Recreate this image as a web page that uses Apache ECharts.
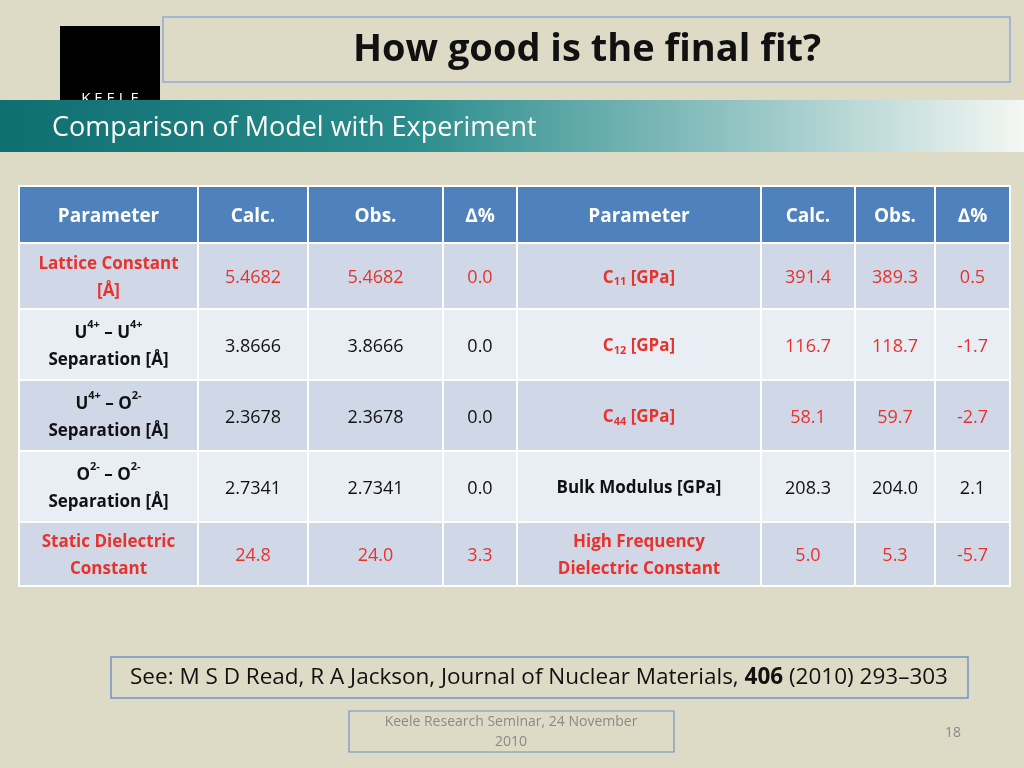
<!DOCTYPE html>
<html><head><meta charset="utf-8">
<script src="https://cdn.jsdelivr.net/npm/echarts@6/dist/echarts.min.js"></script>
<style>html,body{margin:0;background:#dddac5}#main{width:1024px;height:768px}</style>
</head><body><div id="main"></div>
<script>
var chartDom = document.getElementById('main');
var myChart = echarts.init(chartDom);
var FONT = 'Open Sans';

// table content
var headers = ['Parameter', 'Calc.', 'Obs.', '\u2206%', 'Parameter', 'Calc.', 'Obs.', '\u2206%'];
var leftParams = ['Lattice Constant\n[Å]', 'U{sup|4+} – U{sup|4+}\nSeparation [Å]', 'U{sup|4+} – O{sup|2-}\nSeparation [Å]', 'O{sup|2-} – O{sup|2-}\nSeparation [Å]', 'Static Dielectric\nConstant'];
var leftCalc = ['5.4682', '3.8666', '2.3678', '2.7341', '24.8'];
var leftObs = ['5.4682', '3.8666', '2.3678', '2.7341', '24.0'];
var leftDelta = ['0.0', '0.0', '0.0', '0.0', '3.3'];
var rightParams = ['C{sub|11} [GPa]', 'C{sub|12} [GPa]', 'C{sub|44} [GPa]', 'Bulk Modulus [GPa]', 'High Frequency\nDielectric Constant'];
var rightCalc = ['391.4', '116.7', '58.1', '208.3', '5.0'];
var rightObs = ['389.3', '118.7', '59.7', '204.0', '5.3'];
var rightDelta = ['0.5', '-1.7', '-2.7', '2.1', '-5.7'];
var leftRed = [true, false, false, false, true];
var rightRed = [true, true, true, false, true];

// layout of the table (column and row edges)
var colEdges = [0, 179, 289, 424, 498, 742, 836, 916, 991];
var rowEdges = [0, 57, 123, 194, 265, 336, 400];

var RED = '#e8322c';
var cells = [];
for (var c = 0; c < 8; c++) cells.push([c, 0, headers[c], 'head']);
for (var r = 0; r < 5; r++) {
    var lc = leftRed[r] ? RED : '#111';
    var rc = rightRed[r] ? RED : '#111';
    var row = [leftParams[r], leftCalc[r], leftObs[r], leftDelta[r], rightParams[r], rightCalc[r], rightObs[r], rightDelta[r]];
    for (var c = 0; c < 8; c++) {
        var col = c < 4 ? lc : rc;
        var kind = (c === 0 || c === 4) ? 'param' : 'val';
        cells.push([c, r + 1, row[c], kind, col]);
    }
}

function renderCell(params, api) {
    var c = api.value(0), r = api.value(1);
    var d = cells[params.dataIndex];
    var p0 = api.coord([colEdges[c], rowEdges[r]]);
    var p1 = api.coord([colEdges[c + 1], rowEdges[r + 1]]);
    var fill = r === 0 ? '#4f81bd' : (r % 2 === 1 ? '#d0d8e8' : '#e9edf4');
    var color = d[3] === 'head' ? '#fff' : d[4];
    var bold = d[3] !== 'val';
    var size = d[3] === 'head' ? 19 : (d[3] === 'param' ? 17 : 18);
    return {
        type: 'group',
        children: [{
            type: 'rect',
            shape: { x: p0[0], y: p0[1], width: p1[0] - p0[0], height: p1[1] - p0[1] },
            style: { fill: fill, stroke: '#fff', lineWidth: 2 }
        }, {
            type: 'text',
            style: {
                text: d[2],
                x: (p0[0] + p1[0]) / 2, y: (p0[1] + p1[1]) / 2 + 2,
                align: 'center', verticalAlign: 'middle',
                fill: color, fontFamily: FONT, fontSize: size,
                fontWeight: bold ? 'bold' : 'normal', lineHeight: size + 10,
                rich: {
                    sup: { fontSize: 11, fontWeight: 'bold', fontFamily: FONT, fill: color, verticalAlign: 'top', lineHeight: 27, padding: [0, 0, 10, 0] },
                    sub: { fontSize: 11, fontWeight: 'bold', fontFamily: FONT, fill: color, padding: [8, 0, 0, 0] }
                }
            }
        }]
    };
}

var option = {
    backgroundColor: '#dddac5',
    animation: false,
    grid: { left: 19, right: 14, top: 186, bottom: 182 },
    xAxis: { type: 'value', min: 0, max: 991, show: false },
    yAxis: { type: 'value', min: 0, max: 400, inverse: true, show: false },
    series: [{
        type: 'custom',
        renderItem: renderCell,
        data: cells.map(function (d) { return [d[0], d[1]]; })
    }],
    graphic: [
        { type: 'rect', shape: { x: 60, y: 26, width: 100, height: 74 }, style: { fill: '#000' } },
        { type: 'text', style: { text: 'K E E L E', x: 110, y: 99, align: 'center', verticalAlign: 'middle', fill: '#fff', fontSize: 15, fontFamily: FONT } },
        { type: 'rect', shape: { x: 0, y: 100, width: 1024, height: 52 },
          style: { fill: new echarts.graphic.LinearGradient(0, 0, 1, 0, [
              { offset: 0, color: '#0f6e70' }, { offset: 0.4, color: '#2a8c8c' },
              { offset: 0.75, color: '#9cc9c8' }, { offset: 1, color: '#f4f7f3' }]) } },
        { type: 'text', style: { text: 'Comparison of Model with Experiment', x: 52, y: 128, verticalAlign: 'middle', fill: '#fff', fontSize: 27, fontFamily: FONT } },
        { type: 'rect', shape: { x: 163, y: 17, width: 847, height: 65 }, style: { fill: '#dddac5', stroke: '#8eaadb', lineWidth: 1.5 } },
        { type: 'text', style: { text: 'How good is the final fit?', x: 587, y: 50, align: 'center', verticalAlign: 'middle', fill: '#111', fontSize: 38, fontWeight: 'bold', fontFamily: FONT } },
        { type: 'rect', shape: { x: 111, y: 657, width: 857, height: 41 }, style: { fill: '#dddac5', stroke: '#6f94c8', lineWidth: 1.5 } },
        { type: 'text', style: { text: 'See: M S D Read, R A Jackson, Journal of Nuclear Materials, {b|406} (2010) 293–303', x: 539, y: 678, align: 'center', verticalAlign: 'middle', fill: '#111', fontSize: 22.5, fontFamily: FONT,
          rich: { b: { fontWeight: 'bold', fontSize: 22.5, fill: '#111', fontFamily: FONT } } } },
        { type: 'rect', shape: { x: 349, y: 711, width: 325, height: 41 }, style: { fill: '#dddac5', stroke: '#6f94c8', lineWidth: 1.2 } },
        { type: 'text', style: { text: 'Keele Research Seminar, 24 November\n2010', x: 511, y: 732, align: 'center', verticalAlign: 'middle', fill: '#8a8a8a', fontSize: 14, lineHeight: 20, fontFamily: FONT } },
        { type: 'text', style: { text: '18', x: 953, y: 733, align: 'center', verticalAlign: 'middle', fill: '#8a8a8a', fontSize: 14, fontFamily: FONT } }
    ]
};

myChart.setOption(option);
</script>
</body></html>
